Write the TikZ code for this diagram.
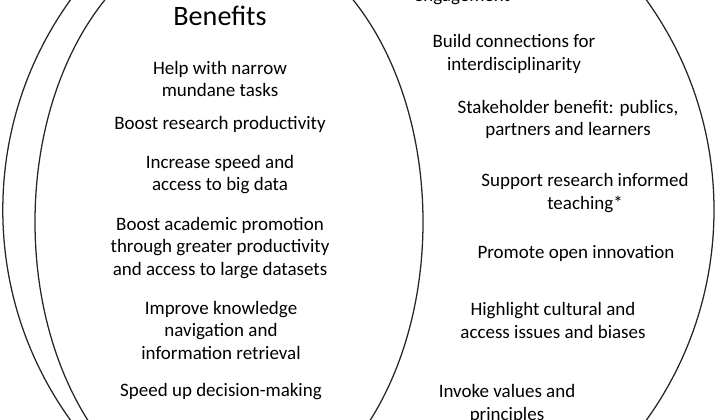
\documentclass[tikz,border=0pt]{standalone}
\usepackage{fontspec}
\setmainfont{Carlito}
\usepackage{tikz}

\begin{document}
\begin{tikzpicture}[
  ring/.style={draw=black!85, line width=0.9pt},
  txt/.style={align=center, font=\fontsize{13.5}{16}\selectfont, inner sep=0pt},
  ttl/.style={font=\fontsize{20}{24}\selectfont, inner sep=0pt}
]
\clip (0,0) rectangle (18,10.5);

% outer and inner rings
\draw[ring] (8.96,5.25) ellipse [x radius=8.89, y radius=8.95];
\draw[ring] (5.725,4.95) ellipse [x radius=4.85, y radius=7.225];

% benefits side
\node[ttl] (ben) at (5.5,10.1) {Benefits};
\node[txt] (b1) at (5.5,8.525) {Help with narrow\\mundane tasks};
\node[txt] (b2) at (5.5,7.4) {Boost research productivity};
\node[txt] (b3) at (5.5,6.14) {Increase speed and\\access to big data};
\node[txt] (b4) at (5.5,4.31) {Boost academic promotion\\through greater productivity\\and access to large datasets};
\node[txt] (b5) at (5.525,2.25) {Improve knowledge\\navigation and\\information retrieval};
\node[txt] (b6) at (5.525,0.7) {Speed up decision-making};

% outer side
\node[txt, anchor=base] (r0) at (11.55,10.45) {engagement};
\node[txt] (r1) at (12.85,9.15) {Build connections for\\interdisciplinarity};
\node[txt] (r2) at (14.2,7.51) {Stakeholder benefit: publics,\\partners and learners};
\node[txt] (r3) at (14.625,5.675) {Support research informed\\teaching*};
\node[txt] (r4) at (14.4,4.175) {Promote open innovation};
\node[txt] (r5) at (13.825,2.49) {Highlight cultural and\\access issues and biases};
\node[txt] (r6) at (12.675,0.4) {Invoke values and\\principles};

\end{tikzpicture}
\end{document}
